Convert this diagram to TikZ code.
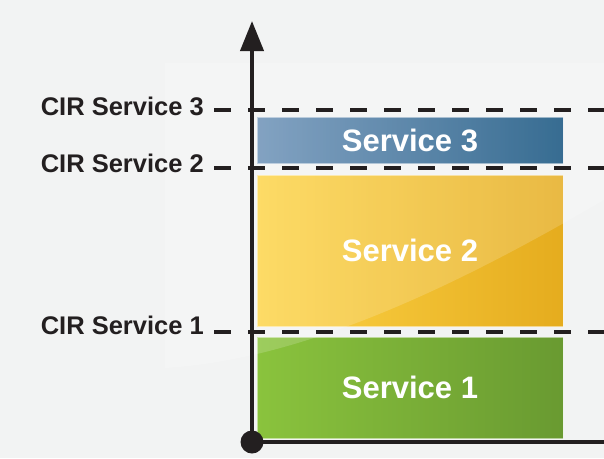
\documentclass[tikz,border=0pt]{standalone}
\usepackage{fontspec}
\setmainfont{Liberation Sans}
\usetikzlibrary{arrows.meta}
\definecolor{bg}{HTML}{F2F3F3}
\definecolor{ink}{HTML}{231F20}
\definecolor{blueL}{HTML}{6A90B6}
\definecolor{blueR}{HTML}{0F4F7C}
\definecolor{yelL}{HTML}{FDD447}
\definecolor{yelR}{HTML}{E5AC1E}
\definecolor{grnL}{HTML}{8AC33D}
\definecolor{grnR}{HTML}{699A31}
\tikzset{
  axisline/.style={ink, line width=4pt},
  cirline/.style={ink, line width=4pt, dash pattern=on 17pt off 17pt},
  cirlabel/.style={anchor=base east, inner sep=0pt, text=ink, font=\fontsize{25.5}{30}\selectfont\bfseries},
  servicebox/.style={minimum width=306pt, inner sep=0pt, draw=white, draw opacity=0.5, line width=0.8pt, shade, shading angle=90},
  servicetext/.style={text=white, font=\fontsize{31}{36}\selectfont\bfseries, inner sep=0pt}
}
\begin{document}
\begin{tikzpicture}[x=1pt,y=-1pt]
\useasboundingbox (0,0) rectangle (604,458);
\fill[bg] (0,0) rectangle (604,458);
% boxes
\node[servicebox, minimum height=46pt, left color=blueL, right color=blueR] (b3) at (410,140) {};
\node[servicebox, minimum height=151pt, left color=yelL, right color=yelR] (b2) at (410,250.5) {};
\node[servicebox, minimum height=101pt, left color=grnL, right color=grnR] (b1) at (410,387.5) {};
% sheen
\fill[white, opacity=0.17] (165,63) -- (604,63) -- (604,200) .. controls (450,290) and (300,360) .. (165,368) -- cycle;
\node[servicetext] (t3) at (b3.center) {Service 3};
\node[servicetext] (t2) at (b2.center) {Service 2};
\node[servicetext] (t1) at (b1.center) {Service 1};
% CIR lines
\coordinate (c3a) at (214,110); \coordinate (c3b) at (604,110);
\coordinate (c2a) at (214,168); \coordinate (c2b) at (604,168);
\coordinate (c1a) at (214,332); \coordinate (c1b) at (604,332);
\draw[cirline] (c3a) -- (c3b);
\draw[cirline] (c2a) -- (c2b);
\draw[cirline] (c1a) -- (c1b);
\node[cirlabel] (l3) at (204,115) {CIR Service 3};
\node[cirlabel] (l2) at (204,172.5) {CIR Service 2};
\node[cirlabel] (l1) at (204,334) {CIR Service 1};
% axes
\coordinate (o) at (252,442);
\coordinate (ytip) at (252,21);
\coordinate (xend) at (606,442);
\draw[axisline] (o) -- (xend);
\draw[axisline, -{Triangle[length=30pt,width=23pt]}] (o) -- (ytip);
\fill[ink] (o) circle (11.5);
\end{tikzpicture}
\end{document}
